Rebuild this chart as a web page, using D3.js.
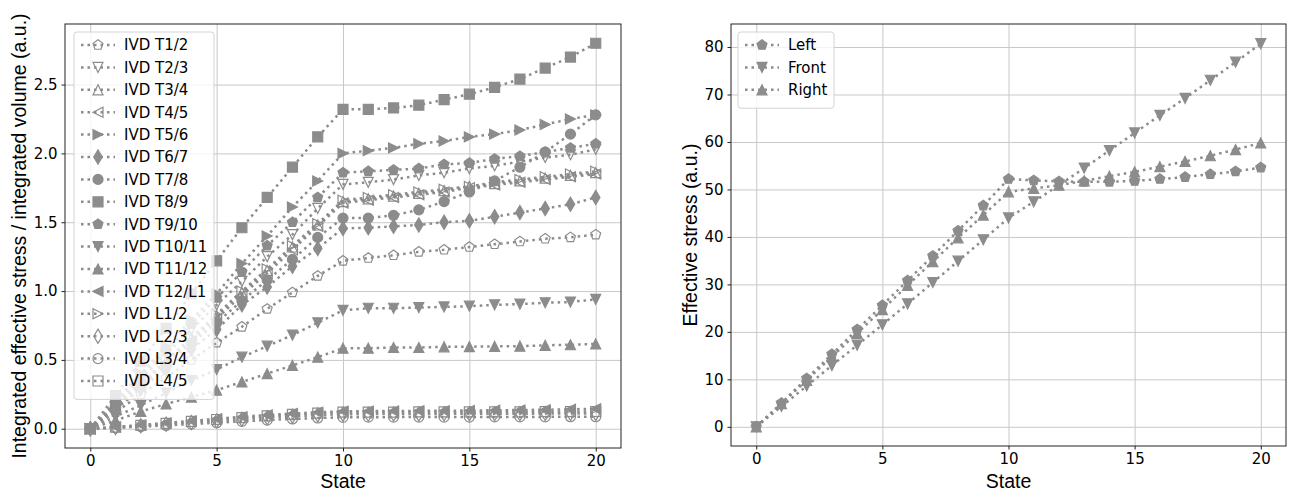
<!DOCTYPE html>
<html>
<head>
<meta charset="utf-8">
<script src="https://cdn.jsdelivr.net/npm/d3@7"></script>
<style>
body { margin: 0; background: #fff; }
svg text { font-family: "DejaVu Sans", sans-serif; fill: #000; }
.axis-label { font-family: "Liberation Sans", Arial, sans-serif; font-size: 19.5px; }
</style>
</head>
<body>
<svg width="1292" height="491"></svg>
<script>
var width = 1292;
var height = 491;
var grey = '#8c8c8c';

// ---- data ----
var states = [0, 1, 2, 3, 4, 5, 6, 7, 8, 9, 10, 11, 12, 13, 14, 15, 16, 17, 18, 19, 20];
var xTicks = [0, 5, 10, 15, 20];
var leftYTicks = [0, 0.5, 1.0, 1.5, 2.0, 2.5];
var rightYTicks = [0, 10, 20, 30, 40, 50, 60, 70, 80];

var ivdNames = ['IVD T1/2', 'IVD T2/3', 'IVD T3/4', 'IVD T4/5', 'IVD T5/6', 'IVD T6/7', 'IVD T7/8', 'IVD T8/9',
                'IVD T9/10', 'IVD T10/11', 'IVD T11/12', 'IVD T12/L1', 'IVD L1/2', 'IVD L2/3', 'IVD L3/4', 'IVD L4/5'];
var ivdShapes = ['pentagon', 'tri-down', 'tri-up', 'tri-left', 'tri-right', 'thin-diamond', 'circle', 'square',
                 'pentagon', 'tri-down', 'tri-up', 'tri-left', 'tri-right', 'thin-diamond', 'circle', 'square'];
var ivdFilled = [false, false, false, false, true, true, true, true,
                 true, true, true, true, false, false, false, false];

var ivdT1_2   = [0, 0.12, 0.25, 0.37, 0.50, 0.625, 0.74, 0.87, 0.99, 1.11, 1.22, 1.24, 1.26, 1.285, 1.30, 1.32, 1.34, 1.36, 1.38, 1.39, 1.41];
var ivdT2_3   = [0, 0.18, 0.36, 0.54, 0.72, 0.90, 1.07, 1.25, 1.41, 1.60, 1.775, 1.79, 1.81, 1.84, 1.86, 1.89, 1.91, 1.94, 1.97, 1.99, 2.03];
var ivdT3_4   = [0, 0.16, 0.33, 0.49, 0.66, 0.82, 0.99, 1.15, 1.32, 1.48, 1.65, 1.67, 1.69, 1.71, 1.73, 1.76, 1.78, 1.80, 1.82, 1.84, 1.86];
var ivdT4_5   = [0, 0.16, 0.32, 0.48, 0.64, 0.80, 0.97, 1.13, 1.30, 1.47, 1.64, 1.66, 1.68, 1.70, 1.72, 1.75, 1.77, 1.79, 1.81, 1.83, 1.85];
var ivdT5_6   = [0, 0.20, 0.40, 0.60, 0.79, 0.98, 1.20, 1.40, 1.61, 1.80, 2.00, 2.02, 2.04, 2.07, 2.09, 2.12, 2.14, 2.17, 2.21, 2.25, 2.28];
var ivdT6_7   = [0, 0.14, 0.29, 0.43, 0.58, 0.72, 0.90, 1.03, 1.18, 1.31, 1.455, 1.46, 1.47, 1.48, 1.50, 1.51, 1.54, 1.57, 1.60, 1.63, 1.68];
var ivdT7_8   = [0, 0.15, 0.31, 0.46, 0.62, 0.77, 0.93, 1.08, 1.23, 1.39, 1.53, 1.53, 1.55, 1.59, 1.65, 1.72, 1.80, 1.90, 2.01, 2.14, 2.28];
var ivdT8_9   = [0, 0.24, 0.49, 0.73, 0.98, 1.22, 1.46, 1.68, 1.90, 2.12, 2.32, 2.32, 2.33, 2.35, 2.39, 2.43, 2.48, 2.54, 2.62, 2.70, 2.80];
var ivdT9_10  = [0, 0.19, 0.38, 0.57, 0.76, 0.95, 1.14, 1.33, 1.50, 1.68, 1.86, 1.87, 1.88, 1.89, 1.92, 1.93, 1.96, 1.98, 2.01, 2.04, 2.07];
var ivdT10_11 = [0, 0.09, 0.17, 0.26, 0.35, 0.43, 0.52, 0.60, 0.68, 0.77, 0.86, 0.875, 0.875, 0.88, 0.885, 0.89, 0.90, 0.905, 0.915, 0.92, 0.94];
var ivdT11_12 = [0, 0.06, 0.125, 0.18, 0.23, 0.28, 0.34, 0.40, 0.46, 0.52, 0.585, 0.585, 0.59, 0.59, 0.595, 0.596, 0.598, 0.60, 0.606, 0.61, 0.616];
var ivdT12_L1 = [0, 0.012, 0.027, 0.042, 0.057, 0.072, 0.087, 0.10, 0.11, 0.12, 0.127, 0.128, 0.129, 0.13, 0.131, 0.132, 0.134, 0.136, 0.138, 0.141, 0.145];
var ivdL1_2   = [0, 0.17, 0.33, 0.50, 0.66, 0.83, 1.00, 1.16, 1.33, 1.49, 1.66, 1.68, 1.70, 1.72, 1.74, 1.76, 1.79, 1.81, 1.83, 1.85, 1.87];
var ivdL2_3   = [0, 0.009, 0.021, 0.033, 0.045, 0.057, 0.069, 0.08, 0.09, 0.099, 0.105, 0.106, 0.107, 0.107, 0.108, 0.108, 0.109, 0.109, 0.11, 0.11, 0.111];
var ivdL3_4   = [0, 0.006, 0.015, 0.024, 0.034, 0.044, 0.054, 0.063, 0.071, 0.078, 0.083, 0.084, 0.084, 0.085, 0.085, 0.085, 0.086, 0.086, 0.086, 0.087, 0.087];
var ivdL4_5   = [0, 0.011, 0.025, 0.039, 0.053, 0.067, 0.081, 0.093, 0.104, 0.113, 0.12, 0.121, 0.121, 0.122, 0.122, 0.122, 0.123, 0.123, 0.124, 0.124, 0.125];

var ivdValues = [ivdT1_2, ivdT2_3, ivdT3_4, ivdT4_5, ivdT5_6, ivdT6_7, ivdT7_8, ivdT8_9,
                 ivdT9_10, ivdT10_11, ivdT11_12, ivdT12_L1, ivdL1_2, ivdL2_3, ivdL3_4, ivdL4_5];

var sideNames = ['Left', 'Front', 'Right'];
var sideShapes = ['pentagon', 'tri-down', 'tri-up'];
var sideFilled = [true, true, true];
var stressLeft  = [0, 5.0, 10.2, 15.3, 20.5, 25.6, 30.8, 36.0, 41.3, 46.6, 52.2, 51.9, 51.7, 51.6, 51.6, 51.8, 52.2, 52.6, 53.2, 53.8, 54.6];
var stressFront = [0, 4.3, 8.6, 12.9, 17.2, 21.5, 25.9, 30.4, 34.9, 39.4, 44.0, 47.4, 50.9, 54.5, 58.2, 61.9, 65.6, 69.2, 73.0, 76.8, 80.7];
var stressRight = [0, 4.9, 9.8, 14.8, 19.7, 24.7, 29.8, 34.8, 39.8, 44.6, 49.5, 50.2, 50.9, 51.8, 52.8, 53.7, 54.8, 55.9, 57.1, 58.4, 59.8];
var sideValues = [stressLeft, stressFront, stressRight];

// ---- markers (matplotlib-like shapes, ms = marker size in px) ----
function markerPath(shape, ms){
    var h = ms / 2;
    if(shape === 'circle') return d3.symbol(d3.symbolCircle, Math.PI * h * h)();
    if(shape === 'square') return 'M' + (-h) + ',' + (-h) + 'H' + h + 'V' + h + 'H' + (-h) + 'Z';
    if(shape === 'tri-up') return 'M0,' + (-h) + 'L' + h + ',' + h + 'L' + (-h) + ',' + h + 'Z';
    if(shape === 'tri-down') return 'M0,' + h + 'L' + h + ',' + (-h) + 'L' + (-h) + ',' + (-h) + 'Z';
    if(shape === 'tri-left') return 'M' + (-h) + ',0L' + h + ',' + (-h) + 'L' + h + ',' + h + 'Z';
    if(shape === 'tri-right') return 'M' + h + ',0L' + (-h) + ',' + (-h) + 'L' + (-h) + ',' + h + 'Z';
    if(shape === 'thin-diamond') return 'M0,' + (-0.707 * ms) + 'L' + (0.424 * ms) + ',0L0,' + (0.707 * ms) + 'L' + (-0.424 * ms) + ',0Z';
    if(shape === 'pentagon'){
        var pts = [];
        for(var k = 0; k < 5; k++){
            var a = -Math.PI / 2 + k * 2 * Math.PI / 5;
            pts.push([h * 1.05 * Math.cos(a), h * 1.05 * Math.sin(a)]);
        }
        return 'M' + pts.map(function(p){ return p.join(','); }).join('L') + 'Z';
    }
}

var svg = d3.select('svg').attr('width', width).attr('height', height);

function drawPanel(cfg){
    var x = d3.scaleLinear().domain([-1, 21]).range([cfg.left, cfg.right]);
    var y = d3.scaleLinear().domain(cfg.yDomain).range([cfg.bottom, cfg.top]);
    var g = svg.append('g');

    // grid
    g.append('g')
        .attr('transform', 'translate(0,' + cfg.bottom + ')')
        .call(d3.axisBottom(x).tickValues(xTicks).tickSize(-(cfg.bottom - cfg.top)).tickFormat(''))
        .call(function(s){ s.select('.domain').remove(); s.selectAll('line').attr('stroke', '#c8c8c8').attr('stroke-width', 1); });
    g.append('g')
        .attr('transform', 'translate(' + cfg.left + ',0)')
        .call(d3.axisLeft(y).tickValues(cfg.yTicks).tickSize(-(cfg.right - cfg.left)).tickFormat(''))
        .call(function(s){ s.select('.domain').remove(); s.selectAll('line').attr('stroke', '#c8c8c8').attr('stroke-width', 1); });

    // series
    var line = d3.line().x(function(d, i){ return x(states[i]); }).y(function(d){ return y(d); });
    cfg.values.forEach(function(vals, si){
        g.append('path')
            .attr('d', line(vals))
            .attr('fill', 'none')
            .attr('stroke', grey)
            .attr('stroke-width', 2.5)
            .attr('stroke-dasharray', '2.5,4');
        g.selectAll(null)
            .data(vals)
            .enter()
            .append('path')
                .attr('transform', function(d, i){ return 'translate(' + x(states[i]) + ',' + y(d) + ')'; })
                .attr('d', markerPath(cfg.shapes[si], 10))
                .attr('fill', cfg.filled[si] ? grey : 'none')
                .attr('stroke', grey)
                .attr('stroke-width', 1.2);
    });

    // frame + ticks
    g.append('rect')
        .attr('x', cfg.left).attr('y', cfg.top)
        .attr('width', cfg.right - cfg.left).attr('height', cfg.bottom - cfg.top)
        .attr('fill', 'none').attr('stroke', '#222').attr('stroke-width', 1);
    g.append('g')
        .attr('transform', 'translate(0,' + cfg.bottom + ')')
        .call(d3.axisBottom(x).tickValues(xTicks).tickSize(3.5).tickPadding(4))
        .call(function(s){
            s.select('.domain').remove();
            s.selectAll('line').attr('stroke', '#222');
            s.selectAll('text').style('font-size', '15px').style('font-family', '"DejaVu Sans", sans-serif').attr('fill', '#000');
        });
    g.append('g')
        .attr('transform', 'translate(' + cfg.left + ',0)')
        .call(d3.axisLeft(y).tickValues(cfg.yTicks).tickSize(3.5).tickPadding(4).tickFormat(cfg.yFormat))
        .call(function(s){
            s.select('.domain').remove();
            s.selectAll('line').attr('stroke', '#222');
            s.selectAll('text').style('font-size', '15px').style('font-family', '"DejaVu Sans", sans-serif').attr('fill', '#000');
        });

    // labels
    g.append('text')
        .attr('class', 'axis-label')
        .attr('x', (cfg.left + cfg.right) / 2)
        .attr('y', 488)
        .style('text-anchor', 'middle')
        .text('State');
    g.append('text')
        .attr('class', 'axis-label')
        .attr('transform', 'translate(' + cfg.yLabelX + ',' + ((cfg.top + cfg.bottom) / 2) + ') rotate(-90)')
        .style('text-anchor', 'middle')
        .text(cfg.yLabel);

    // legend
    var lg = g.append('g').attr('transform', 'translate(' + cfg.legendX + ',' + cfg.legendY + ')');
    lg.append('rect')
        .attr('width', cfg.legendW).attr('height', cfg.names.length * 22.4 + 9)
        .attr('rx', 3)
        .attr('fill', 'white').attr('fill-opacity', 0.8)
        .attr('stroke', '#d4d4d4');
    cfg.names.forEach(function(name, i){
        var ry = 13 + i * 22.4;
        lg.append('line')
            .attr('x1', 7).attr('x2', 41).attr('y1', ry).attr('y2', ry)
            .attr('stroke', grey).attr('stroke-width', 2.5).attr('stroke-dasharray', '2.5,4');
        lg.append('path')
            .attr('transform', 'translate(24,' + ry + ')')
            .attr('d', markerPath(cfg.shapes[i], 10))
            .attr('fill', cfg.filled[i] ? grey : 'none')
            .attr('stroke', grey).attr('stroke-width', 1.2);
        lg.append('text')
            .attr('x', 50).attr('y', ry).attr('dy', '0.36em')
            .style('font-size', '15px')
            .text(name);
    });
}

drawPanel({
    left: 65, right: 621, top: 24, bottom: 448,
    yDomain: [-0.14, 2.94], yTicks: leftYTicks, yFormat: d3.format('.1f'),
    values: ivdValues, shapes: ivdShapes, filled: ivdFilled, names: ivdNames,
    yLabel: 'Integrated effective stress / integrated volume (a.u.)', yLabelX: 26,
    legendX: 74, legendY: 32, legendW: 140
});

drawPanel({
    left: 731, right: 1286, top: 24, bottom: 446,
    yDomain: [-4.04, 84.85], yTicks: rightYTicks, yFormat: d3.format('d'),
    values: sideValues, shapes: sideShapes, filled: sideFilled, names: sideNames,
    yLabel: 'Effective stress (a.u.)', yLabelX: 697,
    legendX: 738, legendY: 32, legendW: 96
});
</script>
</body>
</html>
